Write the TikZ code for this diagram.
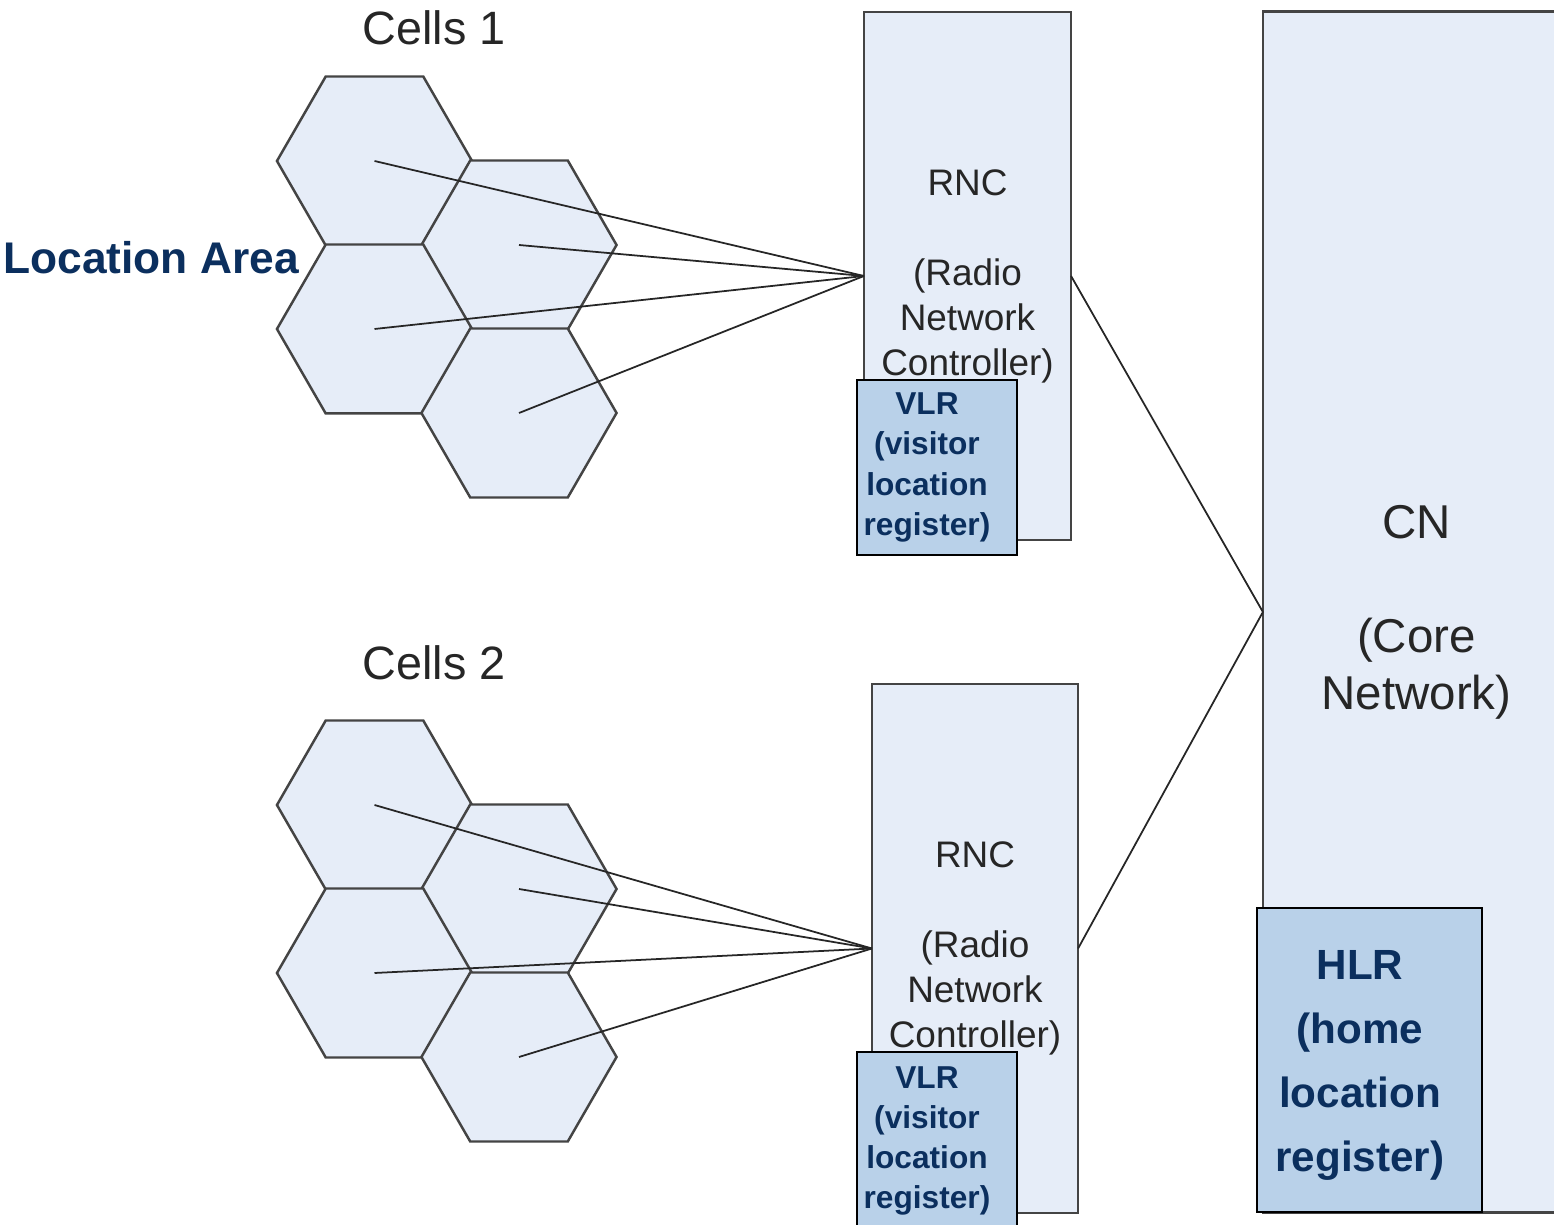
\documentclass[tikz,border=0pt]{standalone}
\usepackage{fontspec}
\setmainfont{Liberation Sans}
\usetikzlibrary{shapes.geometric}

\definecolor{cellfill}{HTML}{E6EDF8}
\definecolor{regfill}{HTML}{B9D1E9}
\definecolor{navy}{HTML}{0B2F5E}
\definecolor{edgegray}{HTML}{444444}

\begin{document}
\begin{tikzpicture}[x=0.01cm,y=-0.01cm,
    cell/.style={regular polygon,regular polygon sides=6,draw=edgegray,
      line width=0.7pt,fill=cellfill,minimum size=1.95cm,inner sep=0pt,
      outer sep=0pt},
    netbox/.style={rectangle,draw=edgegray,line width=0.75pt,fill=cellfill,
      inner sep=0pt,outer sep=0pt,align=center,text=black!85},
    regbox/.style={rectangle,draw=black,line width=0.75pt,fill=regfill,
      inner sep=0pt,outer sep=0pt},
    regtext/.style={align=center,text=navy,font=\bfseries},
    link/.style={draw=black!85,line width=0.5pt}]
  \clip (0,0) rectangle (1554,1225);
  \fill[white] (0,0) rectangle (1554,1225);

  % cells
  \node[cell] (h11) at (374.5,161) {};
  \node[cell] (h12) at (519,245) {};
  \node[cell] (h13) at (374.5,329) {};
  \node[cell] (h14) at (519,413) {};
  \node[cell] (h21) at (374.5,805) {};
  \node[cell] (h22) at (519,889) {};
  \node[cell] (h23) at (374.5,973) {};
  \node[cell] (h24) at (519,1057) {};

  % network boxes
  \node[netbox,minimum width=2.07cm,minimum height=5.28cm,
    font=\fontsize{10.5}{12.8}\selectfont] (rnc1) at (967.5,276)
    {RNC\\[12.8pt](Radio\\Network\\Controller)};
  \node[netbox,minimum width=2.06cm,minimum height=5.29cm,
    font=\fontsize{10.5}{12.8}\selectfont] (rnc2) at (975,948.5)
    {RNC\\[12.8pt](Radio\\Network\\Controller)};
  \node[netbox,minimum width=3.07cm,minimum height=12cm,
    font=\fontsize{13.5}{16.2}\selectfont] (cn) at (1416.5,612)
    {CN\\[16.2pt](Core\\Network)};

  % registers
  \node[regbox,minimum width=1.6cm,minimum height=1.75cm] (vlr1)
    at (937,467.5) {};
  \node[regbox,minimum width=1.6cm,minimum height=1.88cm] (vlr2)
    at (937,1146) {};
  \node[regbox,minimum width=2.25cm,minimum height=3.04cm] (hlr)
    at (1369.5,1060) {};

  % labels
  \node[font=\fontsize{13.3}{16}\selectfont,text=black!85] (cells1)
    at (434,28) {Cells 1};
  \node[font=\fontsize{13.3}{16}\selectfont,text=black!85] (cells2)
    at (434,663) {Cells 2};
  \node[regtext,font=\bfseries\fontsize{12.6}{16}\selectfont] (area)
    at (151,258) {Location Area};
  \node[regtext,font=\bfseries\fontsize{9}{11.4}\selectfont]
    at ([xshift=-0.1cm]vlr1.center) {VLR\\(visitor\\location\\register)};
  \node[regtext,font=\bfseries\fontsize{9}{11.4}\selectfont]
    at (927,1141) {VLR\\(visitor\\location\\register)};
  \node[regtext,font=\bfseries\fontsize{12}{18.2}\selectfont]
    at ([xshift=-0.095cm,yshift=-0.05cm]hlr.center)
    {HLR\\(home\\location\\register)};

  % links
  \foreach \c in {h11,h12,h13,h14}
    \draw[link] (\c.center) -- (rnc1.west);
  \foreach \c in {h21,h22,h23,h24}
    \draw[link] (\c.center) -- (rnc2.west);
  \draw[link] (rnc1.east) -- (cn.west);
  \draw[link] (rnc2.east) -- (cn.west);
\end{tikzpicture}
\end{document}
